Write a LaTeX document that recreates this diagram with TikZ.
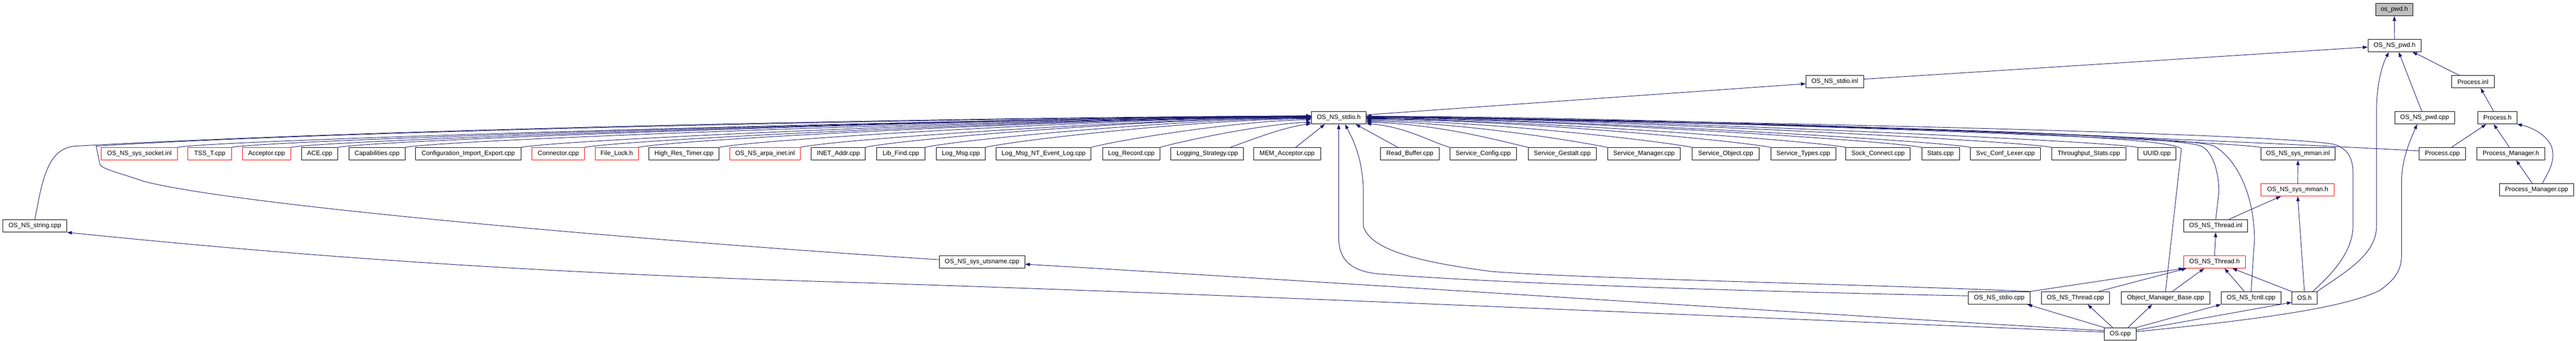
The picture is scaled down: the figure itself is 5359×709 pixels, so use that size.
\documentclass[tikz,border=0pt]{standalone}
\usepackage{fontspec}
\setmainfont{Liberation Sans}
\usetikzlibrary{arrows.meta}
\definecolor{edgecol}{HTML}{191970}
\definecolor{rootfill}{HTML}{BFBFBF}
\begin{document}
\begin{tikzpicture}[x=1pt,y=-1pt,
  box/.style={draw=black, line width=1pt, inner sep=0pt, minimum height=26pt, fill=white, font=\fontsize{13.2}{15}\selectfont},
  redbox/.style={box, draw=red},
  edge/.style={draw=edgecol, line width=1pt, -{Triangle[length=10pt,width=7pt]}}]
\useasboundingbox[fill=white] (0,0) rectangle (5359,709);
% rank 0..2
\node[box, minimum width=78pt, fill=rootfill] (ospwdh) at (4981,20) {os\_pwd.h};
\node[box, minimum width=111pt] (nspwdh) at (4981.5,95) {OS\_NS\_pwd.h};
\node[box, minimum width=120pt] (stdioinl) at (3817,170) {OS\_NS\_stdio.inl};
\node[box, minimum width=89pt] (procinl) at (5144.5,170) {Process.inl};
% rank 3
\node[box, minimum width=114pt] (stdioh) at (2785,245) {OS\_NS\_stdio.h};
\node[box, minimum width=124pt] (nspwdcpp) at (5044,245) {OS\_NS\_pwd.cpp};
\node[box, minimum width=81pt] (proch) at (5195.5,245) {Process.h};
% rank 4
\node[redbox, minimum width=158pt] (sockinl) at (290,320) {OS\_NS\_sys\_socket.inl};
\node[redbox, minimum width=91pt] (tsst) at (436.5,320) {TSS\_T.cpp};
\node[redbox, minimum width=101pt] (acceptor) at (554.5,320) {Acceptor.cpp};
\node[box, minimum width=76pt] (ace) at (665,320) {ACE.cpp};
\node[box, minimum width=117pt] (capab) at (784.5,320) {Capabilities.cpp};
\node[box, minimum width=220pt] (config) at (974,320) {Configuration\_Import\_Export.cpp};
\node[redbox, minimum width=109pt] (connector) at (1161.5,320) {Connector.cpp};
\node[redbox, minimum width=90pt] (filelock) at (1283,320) {File\_Lock.h};
\node[box, minimum width=146pt] (hrtimer) at (1423,320) {High\_Res\_Timer.cpp};
\node[redbox, minimum width=147pt] (arpainl) at (1591.5,320) {OS\_NS\_arpa\_inet.inl};
\node[box, minimum width=112pt] (inetaddr) at (1744,320) {INET\_Addr.cpp};
\node[box, minimum width=100pt] (libfind) at (1874,320) {Lib\_Find.cpp};
\node[box, minimum width=102pt] (logmsg) at (1999,320) {Log\_Msg.cpp};
\node[box, minimum width=198pt] (logmsgnt) at (2171,320) {Log\_Msg\_NT\_Event\_Log.cpp};
\node[box, minimum width=119pt] (logrec) at (2353.5,320) {Log\_Record.cpp};
\node[box, minimum width=151pt] (logstrat) at (2511.5,320) {Logging\_Strategy.cpp};
\node[box, minimum width=139pt] (memacc) at (2677.5,320) {MEM\_Acceptor.cpp};
\node[box, minimum width=122pt] (readbuf) at (2933,320) {Read\_Buffer.cpp};
\node[box, minimum width=139pt] (svcconf) at (3085.5,320) {Service\_Config.cpp};
\node[box, minimum width=142pt] (svcgest) at (3250,320) {Service\_Gestalt.cpp};
\node[box, minimum width=152pt] (svcmgr) at (3420,320) {Service\_Manager.cpp};
\node[box, minimum width=140pt] (svcobj) at (3590,320) {Service\_Object.cpp};
\node[box, minimum width=135pt] (svctypes) at (3751.5,320) {Service\_Types.cpp};
\node[box, minimum width=134pt] (sockconn) at (3907,320) {Sock\_Connect.cpp};
\node[box, minimum width=78pt] (stats) at (4037,320) {Stats.cpp};
\node[box, minimum width=146pt] (lexer) at (4172,320) {Svc\_Conf\_Lexer.cpp};
\node[box, minimum width=155pt] (thrstats) at (4345.5,320) {Throughput\_Stats.cpp};
\node[box, minimum width=80pt] (uuid) at (4487,320) {UUID.cpp};
\node[box, minimum width=155pt] (mmaninl) at (4780.5,320) {OS\_NS\_sys\_mman.inl};
\node[box, minimum width=96pt] (proccpp) at (5081,320) {Process.cpp};
\node[box, minimum width=141pt] (pmh) at (5223.5,320) {Process\_Manager.h};
% rank 5
\node[redbox, minimum width=152pt] (mmanh) at (4780,395) {OS\_NS\_sys\_mman.h};
\node[box, minimum width=154pt] (pmcpp) at (5277,395) {Process\_Manager.cpp};
% rank 6
\node[box, minimum width=133pt] (stringcpp) at (72.5,470) {OS\_NS\_string.cpp};
\node[box, minimum width=133pt] (threadinl) at (4609.5,470) {OS\_NS\_Thread.inl};
% rank 7
\node[redbox, minimum width=128pt] (threadh) at (4607,545) {OS\_NS\_Thread.h};
\node[box, minimum width=178pt] (utsname) at (2043,545) {OS\_NS\_sys\_utsname.cpp};
% rank 8
\node[box, minimum width=128pt] (stdiocpp) at (4159,620) {OS\_NS\_stdio.cpp};
\node[box, minimum width=141pt] (threadcpp) at (4317.5,620) {OS\_NS\_Thread.cpp};
\node[box, minimum width=184pt] (omb) at (4505,620) {Object\_Manager\_Base.cpp};
\node[box, minimum width=124pt] (fcntl) at (4683,620) {OS\_NS\_fcntl.cpp};
\node[box, minimum width=52pt] (osh) at (4794,620) {OS.h};
% rank 9
\node[box, minimum width=66pt] (oscpp) at (4411,695) {OS.cpp};

% ---- upper chain
\draw[edge] (nspwdh.north) -- (ospwdh.south);
\draw[edge] (stdioinl.5) -- (nspwdh.183);
\draw[edge] (stdioh.6) -- (stdioinl.184);
\draw[edge] (osh.north east) .. controls (4880,565) and (4944,530) .. (4944,470) -- (4944,230) .. controls (4944,170) and (4958,130) .. (nspwdh.229);
\draw[edge] ([xshift=-6pt]nspwdcpp.north) -- (nspwdh.303);
\draw[edge] ([xshift=-28pt]procinl.north) .. controls (5080,140) and (5050,122) .. (nspwdh.340);
\draw[edge] ([xshift=-8pt]proch.north) -- (procinl.320);
\draw[edge] ([xshift=19pt]proccpp.north) -- (proch.210);
\draw[edge] ([xshift=-3pt]pmh.north) -- (proch.240);
\draw[edge] ([xshift=12pt]pmcpp.north) .. controls (5300,360) and (5318,335) .. (5308,305) .. controls (5298,280) and (5265,264) .. (proch.south east);
\draw[edge] ([xshift=-9pt]pmcpp.north) -- (pmh.309);
\draw[edge] (mmanh.north) -- (mmaninl.south);
\draw[edge] ([xshift=27pt]threadinl.north) -- (mmanh.201);
\draw[edge] (osh.north) -- (mmanh.south);
\draw[edge] (threadh.north) -- (threadinl.south);
\draw[edge] (stdiocpp.north east) -- (threadh.south west);
\draw[edge] ([xshift=48pt]threadcpp.north) -- (threadh.193);
\draw[edge] ([xshift=14pt]omb.north) -- (threadh.212);
\draw[edge] ([xshift=-14pt]fcntl.north) -- (threadh.327);
\draw[edge] (osh.north west) -- (threadh.340);
% ---- OS.cpp
\draw[edge] (oscpp.north west) -- (stdiocpp.347);
\draw[edge] ([xshift=-16pt]oscpp.north) -- (threadcpp.332);
\draw[edge] ([xshift=16pt]oscpp.north) -- (omb.206);
\draw[edge] (oscpp.north east) -- (fcntl.south west);
\draw[edge] ([yshift=8pt]oscpp.east) -- (osh.199);
\draw[edge] ([yshift=5pt]oscpp.east) .. controls (4700,665) and (4880,640) .. (4951,604) .. controls (4985,580) and (4996,560) .. (4996,530) -- (4996,380) .. controls (4996,330) and (5015,290) .. (nspwdcpp.221);
\draw[edge] ([yshift=7pt]oscpp.west) .. controls (3800,655) and (2900,595) .. (utsname.357);
\draw[edge] ([yshift=4pt]oscpp.west) .. controls (3500,655) and (2500,610) .. (1750,587) .. controls (1000,565) and (500,520) .. (stringcpp.south east);
% ---- into OS_NS_stdio.h from the left
\draw[edge] (stringcpp.north) -- (80,418) .. controls (95,340) and (115,308) .. (156,304) .. controls (800,268) and (2000,244) .. (stdioh.176);
\draw[edge] (utsname.177) .. controls (1400,505) and (500,430) .. (298,377) .. controls (250,360) and (212,352) .. (208,342) -- (200,304) .. controls (700,272) and (2000,246) .. (stdioh.176);
\draw[edge] (sockinl.north east) .. controls +(100,-18) and +(-500,0) .. (stdioh.177);
\draw[edge] (tsst.north east) .. controls +(100,-18) and +(-500,0) .. (stdioh.177);
\draw[edge] (acceptor.north east) .. controls +(100,-18) and +(-500,0) .. (stdioh.177);
\draw[edge] (ace.north east) .. controls +(100,-18) and +(-500,0) .. (stdioh.177);
\draw[edge] (capab.north east) .. controls +(100,-18) and +(-450,0) .. (stdioh.178);
\draw[edge] (config.north east) .. controls +(100,-18) and +(-450,0) .. (stdioh.178);
\draw[edge] (connector.north east) .. controls +(100,-18) and +(-400,0) .. (stdioh.178);
\draw[edge] (filelock.north east) .. controls +(90,-18) and +(-400,0) .. (stdioh.179);
\draw[edge] (hrtimer.north east) .. controls +(90,-18) and +(-350,0) .. (stdioh.179);
\draw[edge] (arpainl.north east) .. controls +(80,-18) and +(-300,0) .. (stdioh.180);
\draw[edge] (inetaddr.north east) .. controls +(80,-18) and +(-300,0) .. (stdioh.180);
\draw[edge] (libfind.north east) .. controls +(70,-16) and +(-250,0) .. (stdioh.181);
\draw[edge] (logmsg.north east) .. controls +(70,-16) and +(-220,1) .. (stdioh.182);
\draw[edge] (logmsgnt.north east) .. controls +(60,-16) and +(-150,2) .. (stdioh.184);
\draw[edge] (logrec.north east) .. controls +(50,-14) and +(-100,4) .. (stdioh.189);
\draw[edge] ([xshift=-28pt]logstrat.north east) .. controls +(40,-14) and +(-60,8) .. (stdioh.192);
\draw[edge] ([xshift=18pt]memacc.north) -- (stdioh.205);
% ---- into OS_NS_stdio.h from the right
\draw[edge] ([xshift=-25pt]readbuf.north) -- (stdioh.339);
\draw[edge] (svcconf.north west) .. controls +(-40,-12) and +(80,6) .. (stdioh.348);
\draw[edge] (svcgest.north west) .. controls +(-60,-14) and +(150,4) .. (stdioh.351);
\draw[edge] (svcmgr.north west) .. controls +(-70,-14) and +(200,3) .. (stdioh.353);
\draw[edge] (svcobj.north west) .. controls +(-70,-14) and +(250,2) .. (stdioh.355);
\draw[edge] (svctypes.north west) .. controls +(-80,-15) and +(300,1) .. (stdioh.357);
\draw[edge] (sockconn.north west) .. controls +(-80,-15) and +(300,1) .. (stdioh.358);
\draw[edge] (stats.north west) .. controls +(-80,-15) and +(350,0) .. (stdioh.359);
\draw[edge] (lexer.north west) .. controls +(-80,-15) and +(350,0) .. (stdioh.0);
\draw[edge] (thrstats.north west) .. controls +(-80,-15) and +(400,0) .. (stdioh.1);
\draw[edge] (uuid.north west) .. controls +(-80,-15) and +(400,0) .. (stdioh.2);
\draw[edge] (mmaninl.north west) .. controls +(-100,-16) and +(500,0) .. (stdioh.2);
\draw[edge] (proccpp.173) .. controls +(-200,-12) and +(700,0) .. (stdioh.3);
\draw[edge] (omb.north) -- (4538,310) .. controls (4520,282) and (3900,262) .. (stdioh.3);
\draw[edge] (threadinl.north) -- (4616,400) .. controls (4616,350) and (4600,315) .. (4581,305) .. controls (4550,285) and (4000,262) .. (stdioh.3);
\draw[edge] (fcntl.north) -- (4690,500) .. controls (4690,400) and (4650,330) .. (4608,305) .. controls (4580,285) and (4000,262) .. (stdioh.3);
\draw[edge] ([xshift=17pt]osh.north) .. controls (4840,580) and (4895,530) .. (4895,470) -- (4895,360) .. controls (4895,330) and (4885,312) .. (4861,302) .. controls (4830,287) and (4200,262) .. (stdioh.3);
\draw[edge] (stdiocpp.176) .. controls (3900,612) and (3200,596) .. (2870,570) .. controls (2810,565) and (2785,540) .. (2785,495) -- (stdioh.south);
\draw[edge] (stdiocpp.north east) .. controls (3900,592) and (3300,580) .. (3104,565) .. controls (2950,545) and (2850,520) .. (2836,470) -- (2836,390) .. controls (2834,330) and (2815,290) .. (stdioh.314);
\end{tikzpicture}
\end{document}
